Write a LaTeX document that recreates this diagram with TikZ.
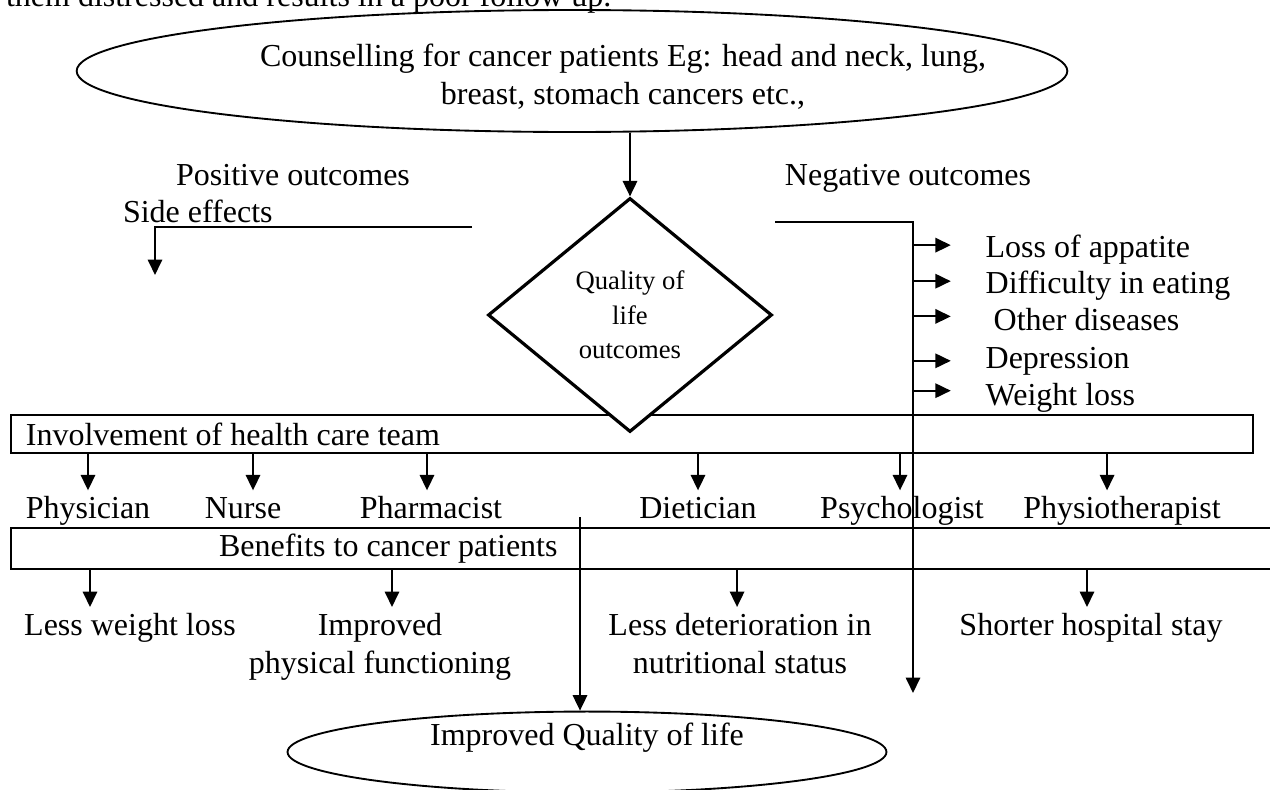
\documentclass[tikz,border=0pt]{standalone}
\usepackage{fontspec}
\setmainfont{Liberation Serif}
\usetikzlibrary{shapes.geometric,arrows.meta}

\begin{document}
\begin{tikzpicture}[x=0.375pt,y=-0.375pt,line width=0.75pt,
      every node/.style={font=\fontsize{12}{14.25}\selectfont},
      arr/.style={-{Triangle[length=5.8pt,width=5.4pt]}},
      oval/.style={draw,ellipse,line width=0.7pt,inner sep=0pt},
      bar/.style={draw,anchor=north west,inner xsep=5.6pt,inner ysep=0pt,align=flush left},
      member/.style={anchor=base,inner xsep=0pt,inner ysep=1pt,text height=9pt,text depth=3pt},
      item/.style={anchor=north,inner xsep=0pt,inner ysep=2pt,align=center},
      word/.style={anchor=base,inner sep=0pt},
      effect/.style={anchor=base west,inner sep=1pt}]
      \useasboundingbox (0,0) rectangle (1270,789);

      \node[anchor=base west,inner sep=0pt] (prevline) at (5,6) {them distressed and results in a poor follow up.};

      \node[oval,minimum width=371.5pt,minimum height=45.75pt] (counsel) at (572,71) {};
      \node[anchor=north,inner sep=0pt,align=center] (counseltext) at (623,43)
        {Counselling for cancer patients Eg: head and neck, lung,\\breast, stomach cancers etc.,};

      \node[word] (positive) at (293,185) {Positive outcomes};
      \node[word] (negative) at (908,185) {Negative outcomes};
      \node[effect,inner sep=0pt] (sideeffects) at (122,222) {Side effects};

      \node[bar,text width=454.5pt,minimum height=14.25pt] (team) at (10,414) {Involvement of health care team};
      \node[bar,text width=468.8pt,minimum height=15.4pt] (benefit) at (10,527) {\hspace*{72.4pt}Benefits to cancer patients};

      \node[draw,diamond,fill=white,line width=1.2pt,minimum width=106.5pt,minimum height=87.75pt,
        inner sep=0pt,align=center,font=\fontsize{10}{13}\selectfont] (quality) at (630,315) {Quality of\\life\\outcomes};

      \node[effect] (appetite) at (982,257) {Loss of appatite};
      \node[effect] (eating) at (982,293) {Difficulty in eating};
      \node[effect] (diseases) at (982,330) {\ Other diseases};
      \node[effect] (depression) at (982,368) {Depression};
      \node[effect] (weight) at (982,405) {Weight loss};

      \node[member] (physician) at (88,518) {Physician};
      \node[member] (nurse) at (243,518) {Nurse};
      \node[member] (pharmacist) at (431,518) {Pharmacist};
      \node[member] (dietician) at (698,518) {Dietician};
      \node[member] (psychologist) at (902,518) {Psychologist};
      \node[member] (physio) at (1122,518) {Physiotherapist};

      \node[item] (lessloss) at (130,607) {Less weight loss};
      \node[item] (physical) at (380,607) {Improved\\physical functioning};
      \node[item] (nutrition) at (740,607) {Less deterioration in\\nutritional status};
      \node[item] (shorter) at (1091,607) {Shorter hospital stay};

      \node[oval,minimum width=224.6pt,minimum height=26pt] (improvedqol) at (587,752) {\raisebox{13pt}{Improved Quality of life}};

      \coordinate (posstart) at (472,227);
      \coordinate (sidetip) at (155,275);
      \coordinate (negstart) at (775,222);
      \coordinate (negtip) at (913,693);
      \coordinate (benefitstart) at (580,517);

      \draw[arr] (counsel.south -| quality.north) -- (quality.north);
      \draw[arr] (posstart) -| (sidetip);
      \draw[arr] (negstart) -| (negtip);
      \foreach \n/\dy in {appetite/1.5pt,eating/1.5pt,diseases/1pt,depression/0pt,weight/2.5pt}
        \draw[arr,shorten >=11.7pt] ([yshift=\dy]negtip |- \n.west) -- ([yshift=\dy]\n.west);
      \foreach \n/\dx in {physician/0pt,nurse/3.75pt,pharmacist/-1.5pt,dietician/0pt,psychologist/-0.75pt,physio/-5.6pt}
        \draw[arr] ([xshift=\dx]team.south -| \n.north) -- ([xshift=\dx]\n.north);
      \foreach \n/\dx in {lessloss/-15pt,physical/4.5pt,nutrition/-1.1pt,shorter/-1.5pt}
        \draw[arr] ([xshift=\dx]benefit.south -| \n.north) -- ([xshift=\dx]\n.north);
      \draw[arr] (benefitstart) -- (benefitstart |- improvedqol.north);
\end{tikzpicture}
\end{document}
